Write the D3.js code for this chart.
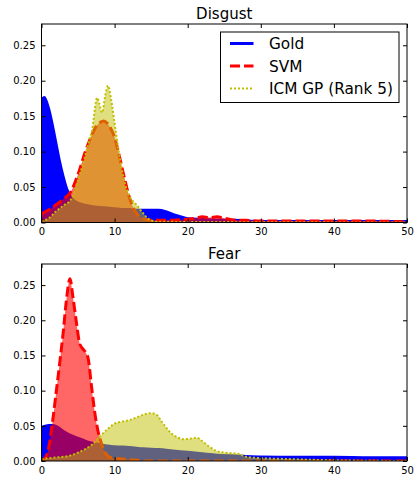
<!DOCTYPE html>
<html>
<head>
<meta charset="utf-8">
<script src="https://cdn.jsdelivr.net/npm/d3@7"></script>
<style>
  body { margin: 0; background: #fff; }
  svg { display: block; font-family: "DejaVu Sans", sans-serif; }
</style>
</head>
<body>
<div id="viewport"></div>
<script>
// tick values
var xTicks = [0, 10, 20, 30, 40, 50];
var yTicks = [0, 0.05, 0.10, 0.15, 0.20, 0.25];

var seriesNames = ["Gold", "SVM", "ICM GP (Rank 5)"];

// Disgust panel
var disgustGoldX = [0, 0.4, 1, 1.5, 2, 2.5, 3, 3.5, 4, 4.5, 5, 6, 7, 8, 9, 10, 11, 12, 13, 14, 15, 16, 17, 18, 19, 20, 22, 24, 26, 28, 30, 35, 40, 45, 50];
var disgustGoldY = [0.174, 0.177, 0.162, 0.140, 0.114, 0.088, 0.066, 0.048, 0.037, 0.031, 0.028, 0.025, 0.023, 0.022, 0.021, 0.020, 0.019, 0.019, 0.018, 0.018, 0.018, 0.018, 0.016, 0.012, 0.009, 0.006, 0.005, 0.004, 0.004, 0.003, 0.002, 0.002, 0.002, 0.002, 0.002];

var disgustSvmX = [0, 1, 2, 3, 4, 5, 6, 7, 7.5, 8, 8.5, 9, 9.5, 10, 10.5, 11, 11.5, 12, 12.5, 13, 14, 15, 17, 19, 21, 22, 23, 24, 25, 26, 28, 30, 35, 40, 45, 50];
var disgustSvmY = [0.012, 0.018, 0.025, 0.033, 0.043, 0.068, 0.100, 0.126, 0.136, 0.141, 0.143, 0.140, 0.132, 0.120, 0.100, 0.078, 0.056, 0.036, 0.022, 0.013, 0.005, 0.003, 0.003, 0.004, 0.006, 0.008, 0.007, 0.008, 0.006, 0.004, 0.003, 0.002, 0.002, 0.002, 0.002, 0.001];

var disgustIcmX = [0, 1, 2, 2.5, 3, 4, 5, 6, 6.5, 7, 7.3, 7.6, 7.9, 8.3, 8.7, 9.1, 9.5, 10, 10.5, 11, 11.5, 12, 12.5, 13, 13.5, 14, 14.5, 15, 16, 50];
var disgustIcmY = [0.002, 0.006, 0.016, 0.020, 0.024, 0.032, 0.060, 0.095, 0.115, 0.135, 0.160, 0.176, 0.168, 0.155, 0.178, 0.193, 0.175, 0.140, 0.105, 0.075, 0.052, 0.038, 0.030, 0.025, 0.018, 0.012, 0.006, 0.003, 0.001, 0];

// Fear panel
var fearGoldX = [0, 0.5, 1, 1.5, 2, 3, 4, 5, 6, 7, 8, 9, 10, 12, 14, 16, 18, 20, 22, 24, 26, 28, 30, 35, 40, 45, 50];
var fearGoldY = [0.048, 0.050, 0.051, 0.051, 0.050, 0.043, 0.037, 0.033, 0.029, 0.026, 0.024, 0.022, 0.021, 0.020, 0.018, 0.017, 0.015, 0.013, 0.011, 0.009, 0.008, 0.007, 0.0065, 0.006, 0.006, 0.0055, 0.0055];

var fearSvmX = [0, 0.5, 1, 1.5, 2, 2.5, 3, 3.4, 3.9, 4.3, 4.8, 5.2, 5.6, 6.0, 6.4, 6.8, 7.3, 7.7, 8.2, 8.7, 9.2, 10, 11, 12, 13, 14, 50];
var fearSvmY = [0.0, 0.004, 0.02, 0.055, 0.097, 0.140, 0.186, 0.228, 0.259, 0.233, 0.195, 0.168, 0.160, 0.155, 0.145, 0.110, 0.068, 0.044, 0.025, 0.012, 0.006, 0.004, 0.003, 0.002, 0.001, 0, 0];

var fearIcmX = [0, 2, 4, 5, 6, 7, 8, 9, 10, 11, 12, 13, 14, 15, 15.7, 16.5, 17.5, 18.5, 19.5, 20.5, 21.3, 22, 23, 24, 25, 26, 27, 28, 30, 33, 36, 40, 50];
var fearIcmY = [0.003, 0.005, 0.008, 0.012, 0.017, 0.024, 0.035, 0.045, 0.053, 0.056, 0.058, 0.062, 0.066, 0.068, 0.066, 0.055, 0.042, 0.034, 0.031, 0.032, 0.033, 0.028, 0.020, 0.014, 0.012, 0.011, 0.010, 0.006, 0.004, 0.003, 0.002, 0.001, 0];

var width = 416, height = 478;

var styles = [
    {fill: "#0000ff", fillOpacity: 1.0, stroke: "#0000ff", width: 2, dash: null},
    {fill: "#ff0000", fillOpacity: 0.6, stroke: "#ff0000", width: 3, dash: "10,4"},
    {fill: "#bfbf00", fillOpacity: 0.5, stroke: "#bfbf00", width: 2, dash: "2,2"}
];

var panels = [
    {title: "Disgust", top: 24, bottom: 222.5, legend: true,
     series: [[disgustGoldX, disgustGoldY], [disgustSvmX, disgustSvmY], [disgustIcmX, disgustIcmY]]},
    {title: "Fear", top: 264, bottom: 461, legend: false,
     series: [[fearGoldX, fearGoldY], [fearSvmX, fearSvmY], [fearIcmX, fearIcmY]]}
];

var left = 41.5, right = 407;

var svg = d3.select("#viewport").append("svg")
    .attr("width", width)
    .attr("height", height);

svg.append("rect").attr("width", width).attr("height", height).attr("fill", "#fff");

var x = d3.scaleLinear().domain([0, 50]).range([left, right]);

panels.forEach(function(p, pi) {
    var y = d3.scaleLinear().domain([0, 0.28]).range([p.bottom, p.top]);

    var clipId = "clip" + pi;
    svg.append("clipPath").attr("id", clipId)
        .append("rect")
        .attr("x", left).attr("y", p.top)
        .attr("width", right - left).attr("height", p.bottom - p.top);

    var g = svg.append("g").attr("clip-path", "url(#" + clipId + ")");

    var area = d3.area()
        .x(function(d) { return x(d[0]); })
        .y0(y(0))
        .y1(function(d) { return y(d[1]); })
        .curve(d3.curveMonotoneX);
    var line = d3.line()
        .x(function(d) { return x(d[0]); })
        .y(function(d) { return y(d[1]); })
        .curve(d3.curveMonotoneX);

    p.series.forEach(function(s, si) {
        var pts = s[0].map(function(v, i) { return [v, s[1][i]]; });
        var st = styles[si];
        g.append("path")
            .attr("d", area(pts))
            .attr("fill", st.fill)
            .attr("fill-opacity", st.fillOpacity);
        g.append("path")
            .attr("d", line(pts))
            .attr("fill", "none")
            .attr("stroke", st.stroke)
            .attr("stroke-width", st.width)
            .attr("stroke-dasharray", st.dash);
    });

    // axes, ticks pointing inward
    var ax = svg.append("g").attr("font-size", 11.5);
    ax.append("g")
        .attr("transform", "translate(0," + p.bottom + ")")
        .call(d3.axisBottom(x).tickValues(xTicks).tickSizeInner(-4).tickSizeOuter(0).tickPadding(5.5).tickFormat(d3.format("d")));
    ax.append("g")
        .attr("transform", "translate(0," + p.top + ")")
        .call(d3.axisTop(x).tickValues(xTicks).tickSizeInner(-4).tickSizeOuter(0).tickFormat(""));
    ax.append("g")
        .attr("transform", "translate(" + left + ",0)")
        .call(d3.axisLeft(y).tickValues(yTicks).tickSizeInner(-4).tickSizeOuter(0).tickPadding(6).tickFormat(d3.format(".2f")));
    ax.append("g")
        .attr("transform", "translate(" + right + ",0)")
        .call(d3.axisRight(y).tickValues(yTicks).tickSizeInner(-4).tickSizeOuter(0).tickFormat(""));
    ax.selectAll(".domain").remove();
    ax.selectAll("text").attr("fill", "#000").attr("font-family", "DejaVu Sans");
    ax.selectAll(".tick line").attr("stroke", "#000");

    svg.append("rect")
        .attr("x", left).attr("y", p.top)
        .attr("width", right - left).attr("height", p.bottom - p.top)
        .attr("fill", "none")
        .attr("stroke", "#000")
        .attr("stroke-width", 1);

    svg.append("text")
        .attr("x", (left + right) / 2)
        .attr("y", p.top - 5)
        .attr("text-anchor", "middle")
        .attr("font-size", 15)
        .text(p.title);

    if (p.legend) {
        var lg = svg.append("g").attr("transform", "translate(220.5,32)");
        lg.append("rect")
            .attr("width", 178.5).attr("height", 70.5)
            .attr("fill", "#fff").attr("stroke", "#000").attr("stroke-width", 1);
        seriesNames.forEach(function(name, i) {
            var yy = 11.5 + i * 22.5;
            var st = styles[i];
            lg.append("line")
                .attr("x1", 9.5).attr("x2", 33)
                .attr("y1", yy).attr("y2", yy)
                .attr("stroke", st.stroke)
                .attr("stroke-width", st.width + (i == 0 ? 1 : 0))
                .attr("stroke-dasharray", st.dash);
            lg.append("text")
                .attr("x", 48.5).attr("y", yy)
                .attr("dy", "0.36em")
                .attr("font-size", 15.3)
                .text(name);
        });
    }
});
</script>
</body>
</html>
